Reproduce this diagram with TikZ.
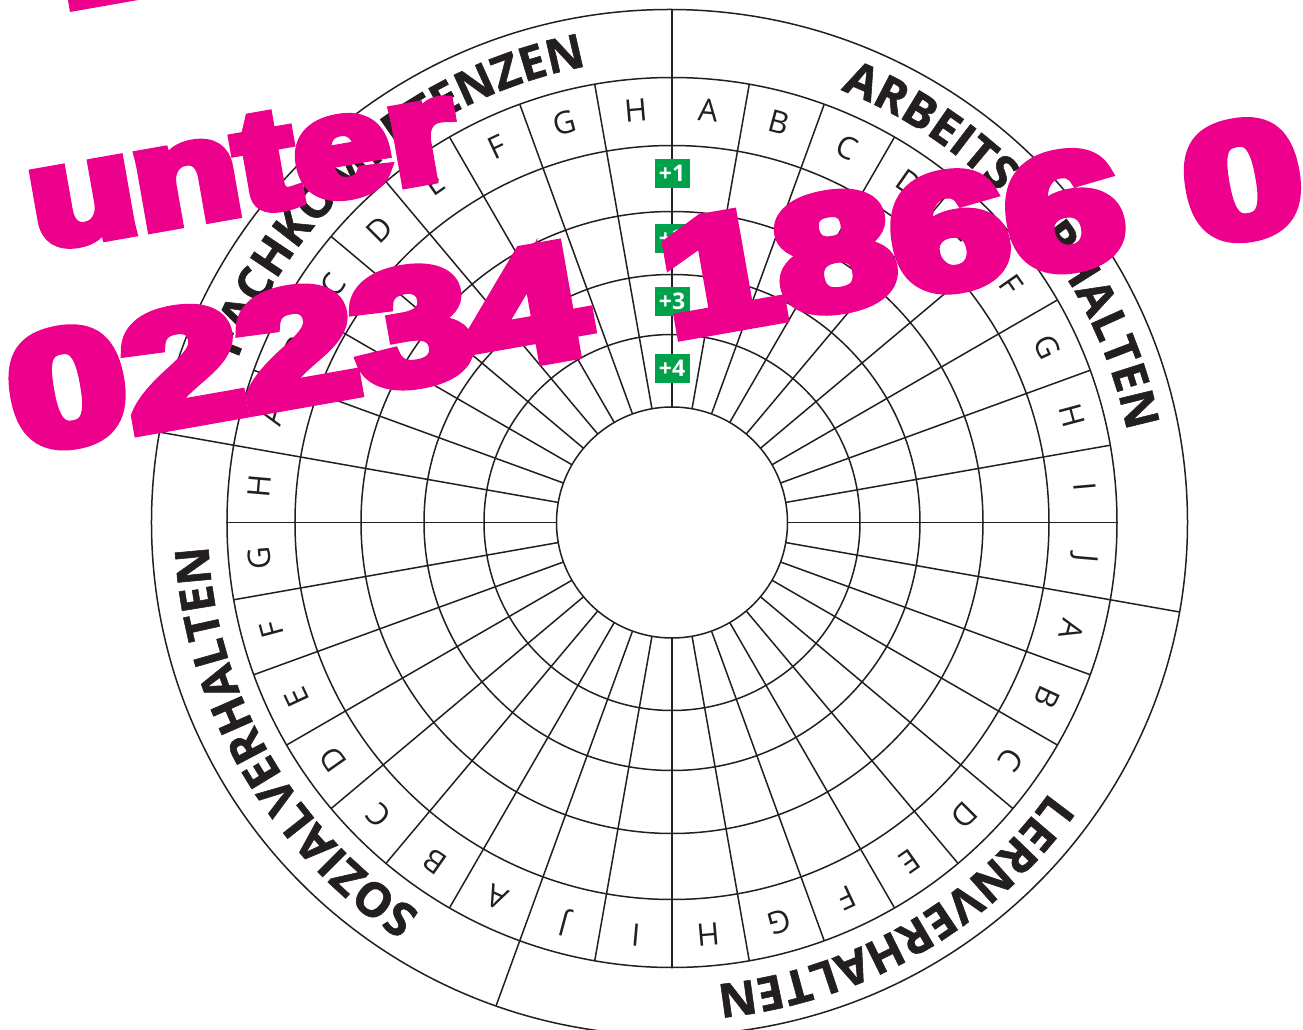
\documentclass[tikz,border=0pt]{standalone}
\usepackage{fontspec}
\setmainfont{Open Sans}
\newfontfamily\heavyfont{Liberation Sans}[BoldFeatures={FakeBold=7.5}]
\newfontfamily\labelfont{Open Sans}[BoldFeatures={FakeBold=1.2}]
\usetikzlibrary{decorations.text}
\definecolor{ink}{RGB}{35,31,32}
\definecolor{scoregreen}{RGB}{0,161,75}
\definecolor{hotpink}{RGB}{236,0,140}
\newcommand{\catfont}{\labelfont\fontsize{47}{47}\selectfont\bfseries}

\begin{document}
\begin{tikzpicture}[
    x=1pt, y=1pt,
    grid/.style={draw=ink, line width=1.5},
    letter/.style={font=\fontsize{31}{31}\selectfont, text=ink, inner sep=0},
    score/.style={fill=scoregreen, text=white, font=\fontsize{23}{23}\selectfont\bfseries, minimum width=35, minimum height=29.5, inner sep=0},
    category/.style={decorate, decoration={text along path, text align=center, text color=ink, text={|\catfont|#1}}},
    stamp/.style={text=hotpink, anchor=base west, inner sep=0, rotate=10}
]
\useasboundingbox (-672,-507.5) rectangle (631,522.5);
\clip (-672,-507.5) rectangle (631,522.5);

% rings and spokes
\foreach \r in {115.5,188,248,311,377,445}
    \draw[grid] (0,0) circle[radius=\r];
\draw[grid] (-2.5,0) ellipse[x radius=518, y radius=513];
\foreach \a in {0,10,...,350}
    \draw[grid] (\a:115.5) -- (\a:445);
\foreach \a/\r in {90/513, -10/515.5, -110/514.5, 170/520.5}
    \draw[grid] (\a:445) -- (\a:\r);

% category names
\path[category=ARBEITSVERHALTEN] (85:464) arc[start angle=85, end angle=-5, radius=464];
\path[category=LERNVERHALTEN] (-15:464) arc[start angle=-15, end angle=-105, radius=464];
\path[category=SOZIALVERHALTEN] (255:464) arc[start angle=255, end angle=165, radius=464];
\path[category=FACHKOMPETENZEN] (175:464) arc[start angle=175, end angle=85, radius=464];

% sector letters
\foreach \l [count=\i from 0] in {A,B,C,D,E,F,G,H,I,J}
    \node[letter, rotate=-5-10*\i] (arb\i) at ({85-10*\i}:414) {\l};
\foreach \l [count=\i from 0] in {A,B,C,D,E,F,G,H,I,J}
    \node[letter, rotate=-105-10*\i] (lern\i) at ({-15-10*\i}:414) {\l};
\foreach \l [count=\i from 0] in {A,B,C,D,E,F,G,H}
    \node[letter, rotate=-205-10*\i] (soz\i) at ({-115-10*\i}:414) {\l};
\foreach \l [count=\i from 0] in {A,B,C,D,E,F,G,H}
    \node[letter, rotate=-285-10*\i] (fach\i) at ({-195-10*\i}:414) {\l};

% scores
\foreach \n/\r in {1/349, 2/284, 3/221, 4/154}
    \node[score] (plus\n) at (90:\r) {+\n};

% stamp on top
\fill[hotpink] (-607,540) -- (-602,510.5) -- (-434,540) -- cycle;
\node[stamp, font=\heavyfont\bfseries\fontsize{140}{140}\selectfont] (unter) at (-634,274) {\scalebox{1.23}[1]{unter}};
\node[stamp, font=\heavyfont\bfseries\fontsize{160}{160}\selectfont] (phone) at (-652.7,70.7)
    {\scalebox{1.31}[1]{02234\hspace{0.38em}1866\hspace{0.31em}0}};
\end{tikzpicture}
\end{document}
